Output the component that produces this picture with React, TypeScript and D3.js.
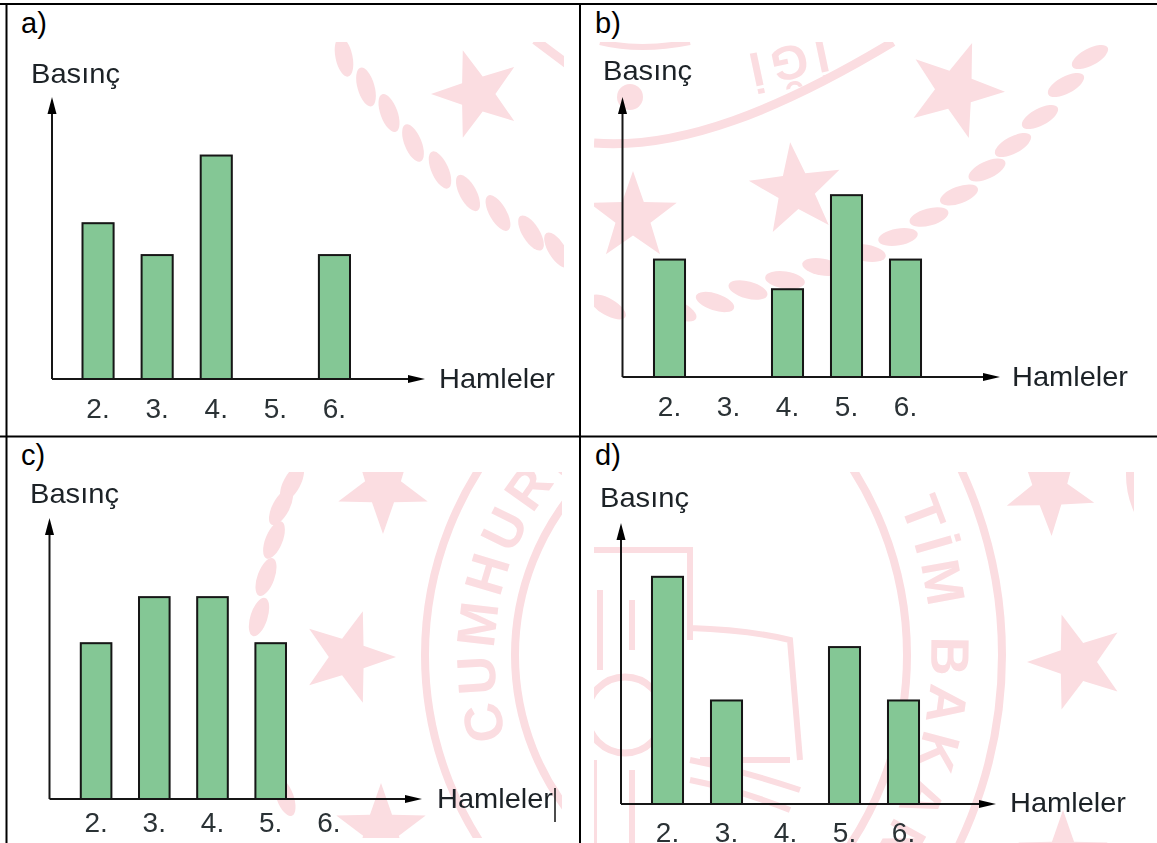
import React from "react";
import * as d3 from "d3";

const W = 1157, H = 843;
const moves = ["2.", "3.", "4.", "5.", "6."];
const valuesA = [55.6, 44.3, 79.6, 0, 44.3];
const valuesB = [42.3, 0, 31.7, 65.3, 42.3];
const valuesC = [55.8, 72.2, 72.2, 55.8, 0];
const valuesD = [81.2, 37.2, 0, 56.2, 37.2];
const yTitle = "Basınç";
const xTitle = "Hamleler";
const PINK = "#fbdde1", FILL = "#84c795", INK = "#151515";

type Star = [number, number, number, number];
type Rope = [number, number, number];
const starsA: Star[] = [[477, 94, 46, -18]];
const ropeA: Rope[] = [[344, 57, 78], [366, 87, 74], [389, 113, 70], [413, 143, 68], [440, 170, 66], [468, 193, 62], [498, 213, 60], [531, 233, 58], [557, 250, 58]];
const starsB: Star[] = [[955, 90, 50, 20], [796, 190, 48, -7], [633, 217, 46, 0]];
const ropeB: Rope[] = [[1090, 57, -28], [1066, 85, -28], [1040, 117, -28], [1013, 145, -28], [987, 170, -25], [959, 195, -20], [929, 217, -15], [898, 237, -10], [866, 253, 10], [822, 267, 10], [785, 280, 8], [748, 290, 15], [715, 302, 18], [678, 310, 25], [608, 307, 30]];
const starsC: Star[] = [[383, 487, 47, 36], [348, 657, 48, 90], [381, 830, 47, 0]];
const ropeC: Rope[] = [[292, 483, -62], [281, 507, -62], [274, 540, -68], [266, 577, -70], [259, 617, -72], [285, 797, 70]];
const starsD: Star[] = [[1050, 490, 46, 34], [1077, 662, 50, -90], [1063, 857, 47, 0]];

const starPath = (r: number) => {
  const pts = d3.range(10).map((i) => [(i * Math.PI) / 5, i % 2 ? r * 0.4 : r] as [number, number]);
  return d3.lineRadial().curve(d3.curveLinearClosed)(pts) as string;
};

function Stars({ items }: { items: Star[] }) {
  return <>{items.map(([x, y, r, a], i) => <path key={i} d={starPath(r)} fill={PINK} transform={`translate(${x},${y}) rotate(${a})`} />)}</>;
}
function RopeMarks({ items }: { items: Rope[] }) {
  return <>{items.map(([x, y, a], i) => <ellipse key={i} cx={x} cy={y} rx={20} ry={8.5} fill={PINK} transform={`rotate(${a} ${x} ${y})`} />)}</>;
}

type P = {
  name: string; lx: number; ly: number; values: number[];
  ax: number; base: number; top: number; end: number;
  range: [number, number]; tickY: number;
  by: [number, number]; hx: number; hy: number; clip: [number, number, number, number]; id: string;
};
const panels: P[] = [
  { id: "a", name: "a)", lx: 21, ly: 33, values: valuesA, ax: 52, base: 379, top: 97, end: 425, range: [68.5, 364], tickY: 418, by: [31, 83], hx: 439, hy: 388, clip: [320, 42, 244, 240] },
  { id: "b", name: "b)", lx: 595, ly: 33, values: valuesB, ax: 622.5, base: 377, top: 97, end: 1000, range: [640, 935], tickY: 416, by: [603, 80], hx: 1012, hy: 386, clip: [594, 42, 536, 300] },
  { id: "c", name: "c)", lx: 21, ly: 465, values: valuesC, ax: 49.5, base: 799, top: 518, end: 422, range: [67, 358], tickY: 832, by: [30, 503], hx: 437, hy: 808, clip: [244, 472, 318, 366] },
  { id: "d", name: "d)", lx: 595, ly: 465, values: valuesD, ax: 621, base: 804, top: 523, end: 996, range: [638, 933], tickY: 842, by: [600, 507], hx: 1010, hy: 812, clip: [594, 472, 540, 371] },
];

function Panel({ p }: { p: P }) {
  const x = d3.scaleBand<string>().domain(moves).range(p.range).paddingInner(0.44).paddingOuter(0.22);
  const y = d3.scaleLinear().domain([0, 100]).range([p.base, p.top]);
  return (
    <g>
      <text x={p.lx} y={p.ly} fontSize={29} fill="#000">{p.name}</text>
      <g filter="url(#soft)">
        <text x={p.by[0]} y={p.by[1]} fontSize={28} fill="#1c2228" textLength={89} lengthAdjust="spacingAndGlyphs">{yTitle}</text>
        <text x={p.hx} y={p.hy} fontSize={28} fill="#1c2228" textLength={116} lengthAdjust="spacingAndGlyphs">{xTitle}</text>
        {moves.map((m, i) => p.values[i] > 0 && (
          <rect key={m} x={(x(m) as number) + 1} y={y(p.values[i]) + 1} width={x.bandwidth() - 2} height={p.base - y(p.values[i]) - 1} fill={FILL} stroke={INK} strokeWidth={2} />
        ))}
        <line x1={p.ax} x2={p.ax} y1={p.base} y2={p.top + 10} stroke={INK} strokeWidth={2} />
        <line x1={p.ax} x2={p.end - 10} y1={p.base} y2={p.base} stroke={INK} strokeWidth={2} />
        <path d={`M${p.ax},${p.top}l4.5,17h-9z`} fill="#000" />
        <path d={`M${p.end},${p.base}l-17,-4v8z`} fill="#000" />
        {moves.map((m) => (
          <text key={m} x={(x(m) as number) + x.bandwidth() / 2} y={p.tickY} fontSize={28} textAnchor="middle" fill="#2c3236">{m}</text>
        ))}
      </g>
    </g>
  );
}

export default function App() {
  const ring = (cx: number, cy: number, r: number, w: number) => (
    <circle cx={cx} cy={cy} r={r} fill="none" stroke={PINK} strokeWidth={w} />
  );
  return (
    <svg width={W} height={H} style={{ position: "absolute", left: 0, top: 0, fontFamily: "'Liberation Sans', Arial, sans-serif" }}>
      <rect width={W} height={H} fill="#fff" />
      <defs>
        <filter id="soft" x="-5%" y="-5%" width="110%" height="110%"><feGaussianBlur stdDeviation="0.45" /></filter>
        {panels.map((p) => <clipPath key={p.id} id={`clip-${p.id}`}><rect x={p.clip[0]} y={p.clip[1]} width={p.clip[2]} height={p.clip[3]} /></clipPath>)}
        <path id="arcC" d="M 655 905 A 275 275 0 0 1 655 405" />
        <path id="arcD" d="M 747 335 A 370 370 0 0 1 747 975" />
      </defs>
      <g clipPath="url(#clip-a)">
        <Stars items={starsA} /><RopeMarks items={ropeA} />
        <line x1={535} y1={40} x2={570} y2={66} stroke={PINK} strokeWidth={9} />
      </g>
      <g clipPath="url(#clip-b)">
        <Stars items={starsB} /><RopeMarks items={ropeB} />
        <path d="M594,143 C680,150 780,110 893,42" fill="none" stroke={PINK} strokeWidth={9} />
        <path d="M600,42 Q640,52 690,42" fill="none" stroke={PINK} strokeWidth={6} />
        <circle cx={630} cy={97} r={13} fill={PINK} />
        <text fontSize={48} fontWeight="bold" letterSpacing={8} fill={PINK} transform="translate(825,38) rotate(168)">İĞİ</text>
      </g>
      <g clipPath="url(#clip-c)">
        <Stars items={starsC} /><RopeMarks items={ropeC} />
        {ring(770, 655, 345, 8)}
        {ring(770, 655, 255, 8)}
        <text fontSize={54} fontWeight="bold" letterSpacing={6} fill={PINK}><textPath href="#arcC" startOffset="230">CUMHURİYETİ</textPath></text>
      </g>
      <g clipPath="url(#clip-d)">
        <Stars items={starsD} />
        {ring(562, 655, 345, 8)}
        {ring(562, 655, 440, 8)}
        <circle cx={1215} cy={475} r={85} fill="none" stroke={PINK} strokeWidth={8} />
        <text fontSize={54} fontWeight="bold" letterSpacing={7} fill={PINK}><textPath href="#arcD" startOffset="232">TİM BAKAN</textPath></text>
        <path d="M594,550 H690 V640 M690,628 Q750,630 790,640 L800,760 M790,760 L700,760 M690,760 Q740,770 800,790 M690,780 Q740,790 790,810 M594,760 V843" fill="none" stroke={PINK} strokeWidth={6} />
        <circle cx={625} cy={715} r={38} fill="none" stroke={PINK} strokeWidth={7} />
        <path d="M600,590 V670 M632,600 V650 M632,770 V843" fill="none" stroke={PINK} strokeWidth={6} />
      </g>

      {panels.map((p) => <Panel key={p.id} p={p} />)}

      <line x1={555} x2={555} y1={788} y2={822} stroke="#111" strokeWidth={1.5} />
      <g stroke="#000" strokeWidth={2}>
        <line x1={0} x2={W} y1={4} y2={4} />
        <line x1={0} x2={W} y1={436.5} y2={436.5} />
        <line x1={6.5} x2={6.5} y1={4} y2={H} />
        <line x1={580} x2={580} y1={4} y2={H} />
      </g>
    </svg>
  );
}
